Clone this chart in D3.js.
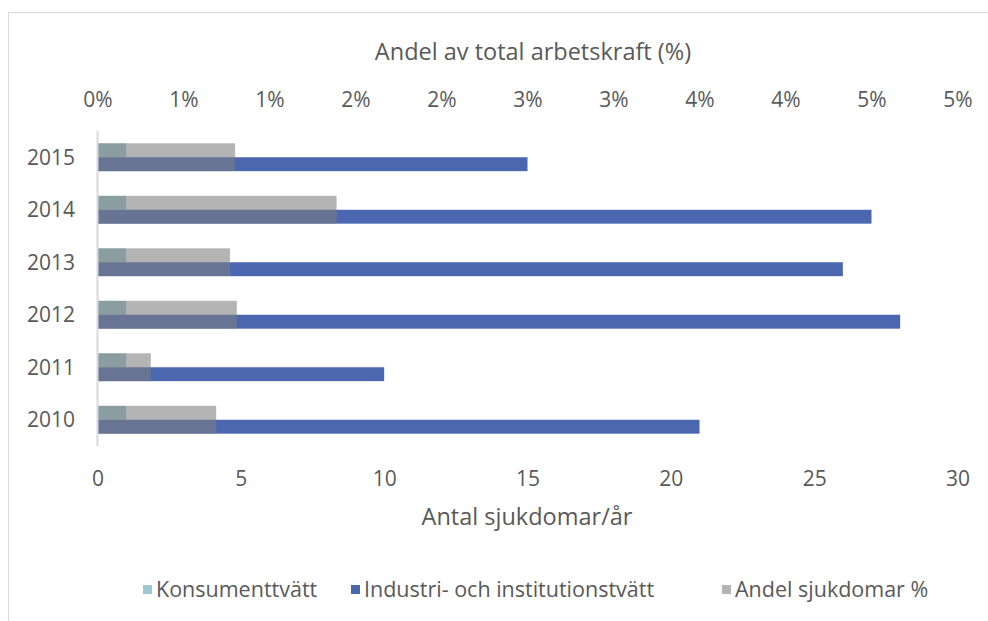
<!DOCTYPE html>
<html>
<head>
<meta charset="utf-8">
<script src="https://cdn.jsdelivr.net/npm/d3@7"></script>
<style>
  body { margin: 0; background: #fff; }
  svg text { font-family: "Open Sans", "Noto Sans", sans-serif; fill: #595959; }
</style>
</head>
<body>
<svg id="chart" width="988" height="621"></svg>
<script>
// Data
const years = ["2015", "2014", "2013", "2012", "2011", "2010"];
const konsument = [1, 1, 1, 1, 1, 1];
const industri = [15, 27, 26, 28, 10, 21];
const andelSjukdomar = [0.0080, 0.0139, 0.0077, 0.0081, 0.0031, 0.0069];
const bottomTicks = [0, 5, 10, 15, 20, 25, 30];
const topTicks = [0, 0.005, 0.01, 0.015, 0.02, 0.025, 0.03, 0.035, 0.04, 0.045, 0.05];
const topTickLabels = ["0%", "1%", "1%", "2%", "2%", "3%", "3%", "4%", "4%", "5%", "5%"];
const seriesNames = ["Konsumenttvätt", "Industri- och institutionstvätt", "Andel sjukdomar %"];
const seriesColors = ["#9cc8d0", "#4a67b0", "#b4b4b4"];

const svg = d3.select("#chart");
const plot = {left: 97.5, right: 957.5, top: 131, bottom: 446};

// chart border
svg.append("rect")
    .attr("x", 8.5).attr("y", 12.5)
    .attr("width", 1000).attr("height", 640)
    .attr("fill", "none")
    .attr("stroke", "#d9d9d9");

const x = d3.scaleLinear().domain([0, 30]).range([plot.left, plot.right]);
const x2 = d3.scaleLinear().domain([0, 0.05]).range([plot.left, plot.right]);
const y = d3.scaleBand().domain(years).range([plot.top, plot.bottom])
    .paddingInner(0.47).paddingOuter(0.235);
const ySub = d3.scaleBand().domain([0, 1]).range([0, y.bandwidth()]);

// primary series, clustered
const rows = years.map((yr, i) => ({year: yr, k: konsument[i], ind: industri[i], p: andelSjukdomar[i]}));

svg.append("g").selectAll("rect").data(rows).join("rect")
    .attr("x", x(0))
    .attr("y", d => y(d.year) + ySub(0))
    .attr("width", d => x(d.k) - x(0))
    .attr("height", ySub.bandwidth())
    .attr("fill", seriesColors[0]);

svg.append("g").selectAll("rect").data(rows).join("rect")
    .attr("x", x(0))
    .attr("y", d => y(d.year) + ySub(1))
    .attr("width", d => x(d.ind) - x(0))
    .attr("height", ySub.bandwidth())
    .attr("fill", seriesColors[1]);

// secondary series, drawn over the cluster with transparency
svg.append("g").selectAll("rect").data(rows).join("rect")
    .attr("x", x2(0))
    .attr("y", d => y(d.year))
    .attr("width", d => x2(d.p) - x2(0))
    .attr("height", y.bandwidth())
    .attr("fill", "#7e7e7e")
    .attr("fill-opacity", 0.58);

// vertical category axis line
svg.append("line")
    .attr("x1", plot.left).attr("x2", plot.left)
    .attr("y1", plot.top).attr("y2", plot.bottom)
    .attr("stroke", "#d9d9d9").attr("stroke-width", 2);

// category labels
svg.append("g").selectAll("text").data(years).join("text")
    .attr("x", 75)
    .attr("y", d => y(d) + y.bandwidth() / 2)
    .attr("dy", "0.35em")
    .attr("text-anchor", "end")
    .style("font-size", "21px")
    .text(d => d);

// bottom axis
const bottomAxis = svg.append("g")
    .attr("transform", "translate(0,486)")
    .call(d3.axisBottom(x).tickValues(bottomTicks).tickSize(0).tickPadding(0));
bottomAxis.select(".domain").remove();
bottomAxis.selectAll("text").attr("dy", 0).attr("y", 0)
    .style("font-size", "21px").attr("fill", "#595959");

// top axis
const topAxis = svg.append("g")
    .attr("transform", "translate(0,107)")
    .call(d3.axisTop(x2).tickValues(topTicks).tickFormat((d, i) => topTickLabels[i]).tickSize(0).tickPadding(0));
topAxis.select(".domain").remove();
topAxis.selectAll("text").attr("dy", 0).attr("y", 0)
    .style("font-size", "21px").attr("fill", "#595959");

// axis titles
svg.append("text")
    .attr("x", 533).attr("y", 60)
    .attr("text-anchor", "middle")
    .style("font-size", "23.5px")
    .text("Andel av total arbetskraft (%)");

svg.append("text")
    .attr("x", 527).attr("y", 525)
    .attr("text-anchor", "middle")
    .style("font-size", "23.5px")
    .text("Antal sjukdomar/år");

// legend
const legendX = [143, 351, 722];
const legend = svg.append("g").selectAll("g").data(seriesNames).join("g")
    .attr("transform", (d, i) => `translate(${legendX[i]},589)`);
legend.append("rect")
    .attr("x", 0).attr("y", -4)
    .attr("width", 9).attr("height", 9)
    .attr("fill", (d, i) => seriesColors[i]);
legend.append("text")
    .attr("x", 13).attr("y", 0).attr("dy", "0.35em")
    .style("font-size", "21.5px")
    .text(d => d);
</script>
</body>
</html>
